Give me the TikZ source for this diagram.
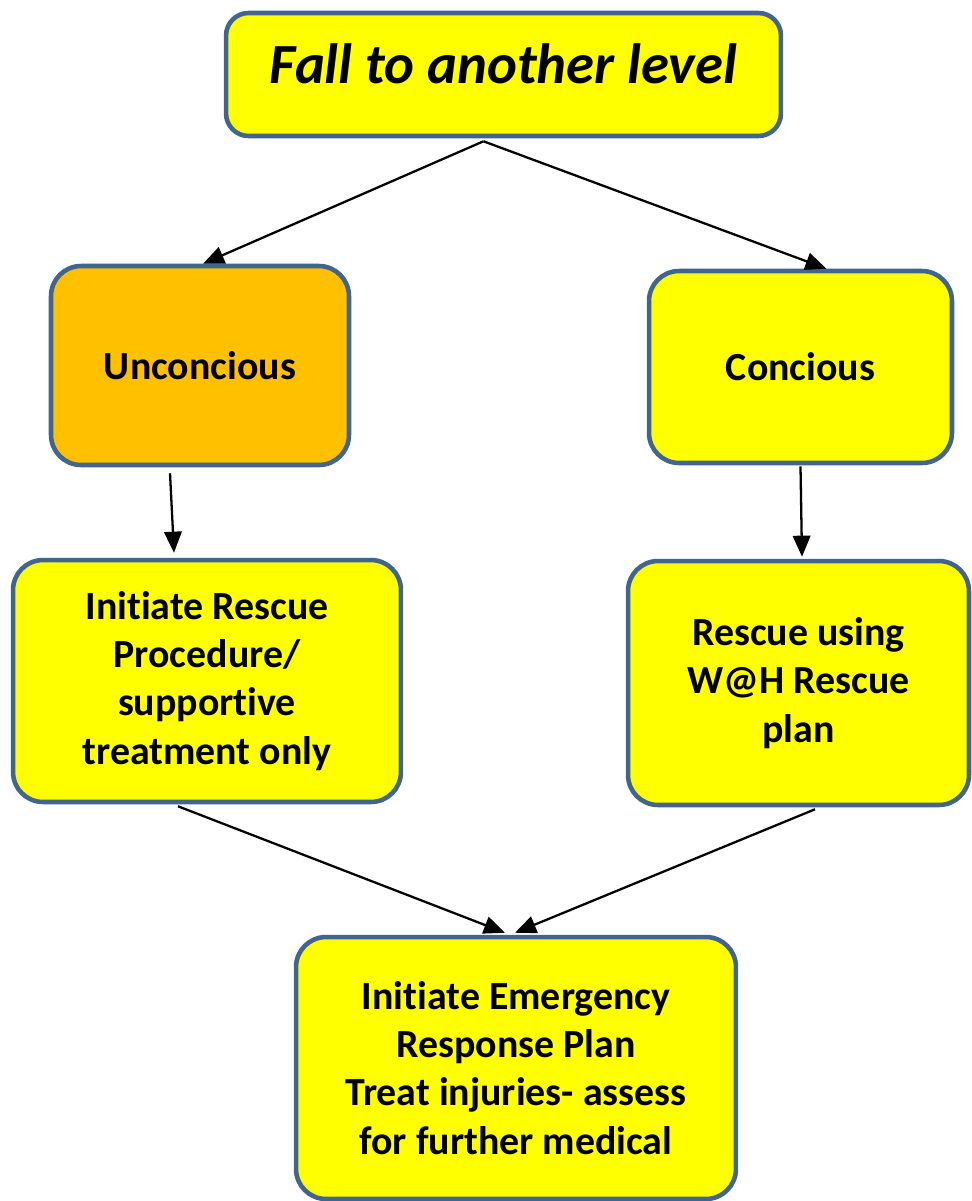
\documentclass[tikz,border=0pt]{standalone}
\usepackage{fontspec}
\setmainfont{Carlito}[Ligatures=NoCommon]
\usepackage{tikz}
\usepackage{xcolor}
\usetikzlibrary{arrows.meta}
\definecolor{boxline}{RGB}{65,100,145}
\definecolor{boxyellow}{RGB}{255,255,0}
\definecolor{boxorange}{RGB}{255,192,0}

\begin{document}
\begin{tikzpicture}[x=0.02cm, y=-0.02cm,
    box/.style={draw=boxline, line width=2.6pt, fill=boxyellow, rounded corners=0.6cm, align=center,
        font=\fontsize{22.7}{27.4}\selectfont\bfseries},
    link/.style={-{Triangle[length=12pt, width=10pt]}, line width=1.3pt}]
        \useasboundingbox (0,0) rectangle (971,1201);

        \node [box, rounded corners=0.45cm, minimum width=11.1cm, minimum height=2.46cm, text depth=12pt,
            font=\fontsize{32.3}{38}\selectfont\bfseries\itshape] (fall) at (503.5,74.5) {Fall to another level};
        \node [box, fill=boxorange, minimum width=5.96cm, minimum height=3.98cm] (uncon) at (200,365.5) {Unconcious};
        \node [box, minimum width=6.06cm, minimum height=3.84cm] (con) at (800.5,367) {Concious};
        \node [box, minimum width=7.76cm, minimum height=4.84cm] (initrescue) at (207,681)
            {Initiate Rescue\\Procedure/\\supportive\\treatment only};
        \node [box, minimum width=6.82cm, minimum height=4.88cm] (wahrescue) at (798.5,683)
            {Rescue using\\W@H Rescue\\plan};
        \node [box, minimum width=8.8cm, minimum height=5.24cm] (erp) at (516,1068)
            {Initiate Emergency\\Response Plan\\Treat injuries- assess\\for further medical};

        \draw [link] ([xshift=-0.4cm, yshift=-0.06cm]fall.south) -- ([xshift=0.06cm]uncon.north);
        \draw [link] ([xshift=-0.4cm, yshift=-0.06cm]fall.south) -- ([xshift=0.52cm]con.north);
        \draw [link] ([xshift=-0.6cm, yshift=-0.12cm]uncon.south) -- ([xshift=-0.66cm, yshift=0.1cm]initrescue.north);
        \draw [link] ([yshift=-0.02cm]con.south) -- ([xshift=0.07cm, yshift=0.04cm]wahrescue.north);
        \draw [link] ([xshift=-0.58cm, yshift=-0.04cm]initrescue.south) -- ([xshift=-0.22cm, yshift=0.04cm]erp.north);
        \draw [link] ([xshift=0.33cm, yshift=-0.04cm]wahrescue.south) -- ([xshift=-0.02cm, yshift=0.04cm]erp.north);
\end{tikzpicture}
\end{document}
